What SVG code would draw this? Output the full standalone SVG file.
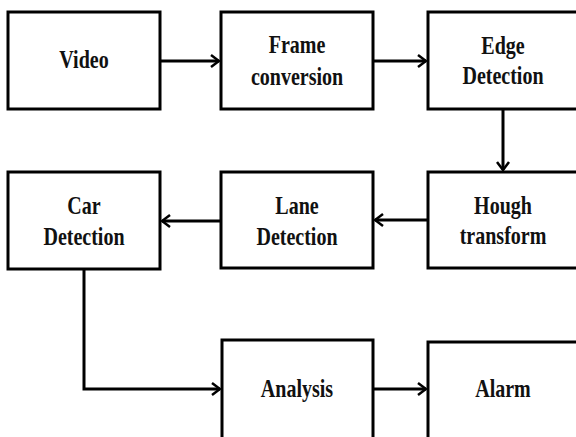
<svg xmlns="http://www.w3.org/2000/svg" width="576" height="437" viewBox="0 0 576 437">
<style>
.box{fill:#fff;stroke:#000;stroke-width:3}
.lbl{font-family:"Liberation Serif","Times New Roman",serif;font-weight:bold;font-size:26px;fill:#111;text-anchor:middle}
.conn{fill:none;stroke:#000;stroke-width:3}
</style>
<defs>
<marker id="ah" viewBox="0 0 10 14" refX="9" refY="7" markerWidth="10" markerHeight="14" markerUnits="userSpaceOnUse" orient="auto">
<path d="M1,1 L9,7 L1,13" fill="none" stroke="#000" stroke-width="2.5"/>
</marker>
</defs>
<rect width="576" height="437" fill="#fff"/>
<g id="video"><rect class="box" x="8" y="12" width="152" height="97"/>
<text class="lbl" transform="translate(84,68) scale(0.77,1)">Video</text></g>
<g id="frame"><rect class="box" x="221" y="12" width="152" height="97"/>
<text class="lbl" transform="translate(297,53) scale(0.77,1)">Frame</text>
<text class="lbl" transform="translate(297,85) scale(0.77,1)">conversion</text></g>
<g id="edge"><rect class="box" x="428" y="12" width="152" height="97"/>
<text class="lbl" transform="translate(503,54) scale(0.77,1)">Edge</text>
<text class="lbl" transform="translate(503,84) scale(0.77,1)">Detection</text></g>
<g id="hough"><rect class="box" x="428" y="172" width="152" height="96"/>
<text class="lbl" transform="translate(503,214) scale(0.77,1)">Hough</text>
<text class="lbl" transform="translate(503,244) scale(0.77,1)">transform</text></g>
<g id="lane"><rect class="box" x="221" y="172" width="152" height="96"/>
<text class="lbl" transform="translate(297,214) scale(0.77,1)">Lane</text>
<text class="lbl" transform="translate(297,245) scale(0.77,1)">Detection</text></g>
<g id="car"><rect class="box" x="8" y="172" width="152" height="97"/>
<text class="lbl" transform="translate(84,214) scale(0.77,1)">Car</text>
<text class="lbl" transform="translate(84,245) scale(0.77,1)">Detection</text></g>
<g id="analysis"><rect class="box" x="222" y="340" width="151" height="100"/>
<text class="lbl" transform="translate(297,397) scale(0.77,1)">Analysis</text></g>
<g id="alarm"><rect class="box" x="428" y="342" width="152" height="100"/>
<text class="lbl" transform="translate(503,397) scale(0.77,1)">Alarm</text></g>
<g id="connectors">
<path class="conn" d="M160,61 L219,61" marker-end="url(#ah)"/>
<path class="conn" d="M373,61 L426,61" marker-end="url(#ah)"/>
<path class="conn" d="M503,109 L503,170" marker-end="url(#ah)"/>
<path class="conn" d="M428,220 L375,220" marker-end="url(#ah)"/>
<path class="conn" d="M221,221 L162,221" marker-end="url(#ah)"/>
<path class="conn" d="M84,269 L84,389 L220,389" marker-end="url(#ah)"/>
<path class="conn" d="M373,389 L426,389" marker-end="url(#ah)"/>
</g>
</svg>
